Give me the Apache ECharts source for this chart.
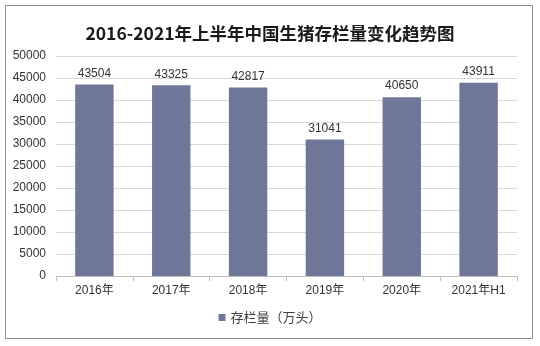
<!DOCTYPE html>
<html><head><meta charset="utf-8">
<script src="https://cdn.jsdelivr.net/npm/echarts@6/dist/echarts.min.js"></script>
<style>html,body{margin:0;padding:0;background:#fff}#c{width:540px;height:346px}</style>
</head><body><div id="c"></div>
<script>
const titleText = '2016-2021年上半年中国生猪存栏量变化趋势图';
const categories = ['2016年','2017年','2018年','2019年','2020年','2021年H1'];
const seriesName = '存栏量（万头）';
const values = [43504, 43325, 42817, 31041, 40650, 43911];
const yTicks = {min: 0, max: 50000, interval: 5000};

const chart = echarts.init(document.getElementById('c'), null, {renderer: 'canvas'});
chart.setOption({
  animation: false,
  backgroundColor: '#fff',
  graphic: [{type: 'rect', shape: {x: 5.5, y: 5.5, width: 527, height: 333}, style: {fill: 'none', stroke: '#8c8c8c', lineWidth: 1}}],
  title: {text: titleText, left: 'center', top: 20, textStyle: {fontFamily: '"Noto Sans CJK SC", serif', fontWeight: 'bold', fontSize: 17.5, color: '#1a1a1a'}},
  grid: {left: 56, right: 23, top: 56, bottom: 70},
  legend: {bottom: 17, left: 'center', itemWidth: 7, itemHeight: 7, itemGap: 4, icon: 'rect', textStyle: {fontSize: 13, color: '#404040', fontFamily: '"Noto Sans CJK SC", sans-serif'}, data: [seriesName]},
  xAxis: {type: 'category', data: categories,
    axisLine: {lineStyle: {color: '#bfbfbf'}},
    axisTick: {show: true, length: 5, lineStyle: {color: '#bfbfbf'}},
    axisLabel: {color: '#333', fontSize: 12, margin: 9, fontFamily: '"Liberation Sans", "Noto Sans CJK SC", sans-serif'}},
  yAxis: {type: 'value', min: yTicks.min, max: yTicks.max, interval: yTicks.interval,
    axisLine: {show: false}, axisTick: {show: false},
    splitLine: {lineStyle: {color: '#d9d9d9'}},
    axisLabel: {color: '#333', fontSize: 12, margin: 10, formatter: v => String(v), fontFamily: '"Liberation Sans", sans-serif'}},
  series: [{name: seriesName, type: 'bar', data: values, barWidth: '50%',
    itemStyle: {color: '#6f7799'},
    label: {show: true, position: 'top', color: '#333', fontSize: 12, distance: 5, fontFamily: '"Liberation Sans", sans-serif'}}]
});
</script></body></html>
